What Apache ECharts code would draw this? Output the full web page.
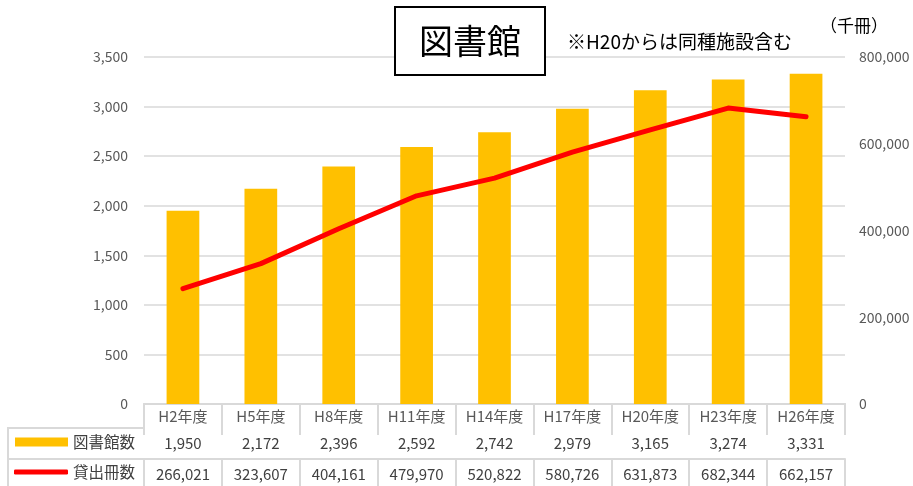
<!DOCTYPE html>
<html>
<head>
<meta charset="utf-8">
<script src="https://cdn.jsdelivr.net/npm/echarts@6/dist/echarts.min.js"></script>
<style>html,body{margin:0;padding:0;background:#fff;}#c{width:913px;height:486px;}</style>
</head>
<body>
<div id="c"></div>
<script>
const categories = ['H2年度','H5年度','H8年度','H11年度','H14年度','H17年度','H20年度','H23年度','H26年度'];
const libraryCounts = [1950, 2172, 2396, 2592, 2742, 2979, 3165, 3274, 3331];
const loanVolumes = [266021, 323607, 404161, 479970, 520822, 580726, 631873, 682344, 662157];
const leftTicks = { min: 0, max: 3500, interval: 500 };
const rightTicks = { min: 0, max: 800000, interval: 200000 };
const seriesNames = ['図書館数', '貸出冊数'];

const FONT = '"Noto Sans CJK JP", "Noto Sans", sans-serif';
const fmt = v => Number(v).toLocaleString('en-US');
const lineCol = '#d9d9d9';

const chart = echarts.init(document.getElementById('c'), null, { renderer: 'canvas' });

function tableAxis(data, offset, tickLen, margin) {
  return {
    type: 'category', gridIndex: 0, position: 'bottom', offset: offset, data: data,
    axisLine: { show: true, lineStyle: { color: lineCol, width: 2 } },
    axisTick: { show: true, interval: 0, length: tickLen, alignWithLabel: false, lineStyle: { color: lineCol, width: 2 } },
    axisLabel: { interval: 0, margin: margin, fontSize: 15, color: '#404040', fontFamily: FONT },
    splitLine: { show: false }
  };
}

chart.setOption({
  animation: false,
  textStyle: { fontFamily: FONT },
  title: [
    { text: '図書館', left: 395, top: 7, borderColor: '#000', borderWidth: 2, backgroundColor: '#fff',
      padding: [13, 24, 13, 24], z: 10,
      textStyle: { fontSize: 34, fontWeight: 'normal', color: '#000', lineHeight: 42, fontFamily: FONT } },
    { text: '※H20からは同種施設含む', left: 567, top: 31, padding: 0,
      textStyle: { fontSize: 19, fontWeight: 'normal', color: '#000', lineHeight: 21, fontFamily: FONT } },
    { text: '（千冊）', left: 820, top: 16, padding: 0,
      textStyle: { fontSize: 17, fontWeight: 'normal', color: '#000', lineHeight: 20, fontFamily: FONT } }
  ],
  legend: [
    { data: [{ name: seriesNames[0], icon: 'rect' }], left: 15, top: 434, padding: 0,
      itemWidth: 53, itemHeight: 9, itemGap: 5, selectedMode: false,
      textStyle: { fontSize: 15.5, color: '#404040', lineHeight: 16, fontFamily: FONT } },
    { data: [{ name: seriesNames[1], icon: 'roundRect' }], left: 14, top: 464, padding: 0,
      itemWidth: 54, itemHeight: 5, itemGap: 5, selectedMode: false,
      textStyle: { fontSize: 15.5, color: '#404040', lineHeight: 16, fontFamily: FONT } }
  ],
  grid: { left: 144, right: 68, top: 57, bottom: 82, containLabel: false },
  xAxis: [
    {
      type: 'category', data: categories, position: 'bottom', offset: 0,
      axisLine: { show: true, lineStyle: { color: lineCol, width: 2 } },
      axisTick: { show: true, interval: 0, length: 24, alignWithLabel: false, lineStyle: { color: lineCol, width: 2 } },
      axisLabel: { interval: 0, margin: 5, fontSize: 15, color: '#595959', fontFamily: FONT }
    },
    tableAxis(libraryCounts.map(fmt), 24, 31, 8),
    tableAxis(loanVolumes.map(fmt), 55, 30, 8)
  ],
  yAxis: [
    {
      type: 'value', min: leftTicks.min, max: leftTicks.max, interval: leftTicks.interval,
      axisLine: { show: false }, axisTick: { show: false },
      axisLabel: { margin: 16, fontSize: 14, color: '#595959', formatter: v => fmt(v), fontFamily: FONT },
      splitLine: { show: true, lineStyle: { color: lineCol, width: 1.5 } }
    },
    {
      type: 'value', position: 'right', min: rightTicks.min, max: rightTicks.max, interval: rightTicks.interval,
      axisLine: { show: false }, axisTick: { show: false },
      axisLabel: { margin: 14, fontSize: 14, color: '#595959', formatter: v => fmt(v), fontFamily: FONT },
      splitLine: { show: false }
    }
  ],
  series: [
    { name: seriesNames[0], type: 'bar', xAxisIndex: 0, yAxisIndex: 0, data: libraryCounts,
      barWidth: '42%', itemStyle: { color: '#FFC000' }, z: 2 },
    { name: seriesNames[1], type: 'line', xAxisIndex: 0, yAxisIndex: 1, data: loanVolumes,
      symbol: 'none', smooth: false, itemStyle: { color: '#FF0000' },
      lineStyle: { color: '#FF0000', width: 5, cap: 'round', join: 'round' }, z: 3 }
  ],
  graphic: [
    { type: 'line', shape: { x1: 8, y1: 428, x2: 144, y2: 428 }, style: { stroke: lineCol, lineWidth: 2 } },
    { type: 'line', shape: { x1: 8, y1: 459, x2: 144, y2: 459 }, style: { stroke: lineCol, lineWidth: 2 } },
    { type: 'line', shape: { x1: 8, y1: 427, x2: 8, y2: 486 }, style: { stroke: lineCol, lineWidth: 2 } }
  ]
});
</script>
</body>
</html>
